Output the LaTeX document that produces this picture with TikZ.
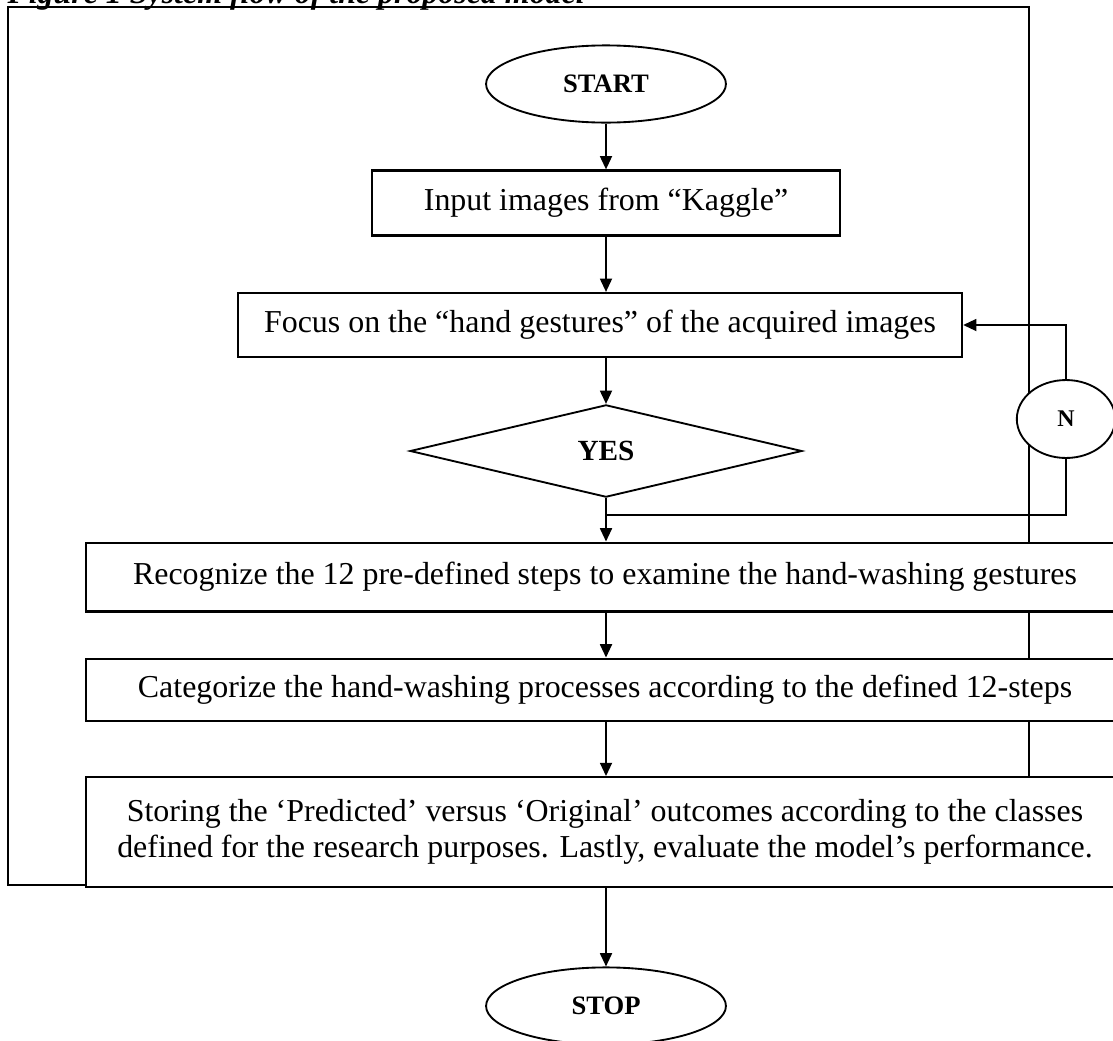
\documentclass[tikz,border=0pt]{standalone}
\usepackage{fontspec}
\setmainfont{Liberation Serif}
\usetikzlibrary{arrows.meta,shapes.geometric,calc}

\begin{document}
\begin{tikzpicture}[
  x=0.01322cm, y=-0.01322cm,
  font=\fontsize{12}{13.6}\selectfont,
  every node/.style={align=center, inner sep=0pt},
  terminal/.style={draw, ellipse, fill=white, line width=0.7pt, minimum width=3.17cm,
                   minimum height=1.02cm, font=\fontsize{10}{12}\selectfont\bfseries},
  process/.style={draw, rectangle, fill=white, line width=0.8pt},
  decision/.style={draw, diamond, fill=white, line width=0.7pt, minimum width=5.18cm,
                   minimum height=1.22cm, font=\fontsize{11}{13}\selectfont\bfseries},
  connector/.style={draw, ellipse, fill=white, line width=0.7pt, minimum width=1.3cm,
                    minimum height=1.03cm, font=\fontsize{9}{11}\selectfont\bfseries},
  arr/.style={-{Triangle[length=5pt,width=4.5pt]}, line width=0.7pt},
  link/.style={line width=0.7pt},
]
\useasboundingbox (0,0) rectangle (1113,1041);

%% --- Caption (cut at the top edge) ---
\node[anchor=base west, font=\fontsize{12}{14}\selectfont\bfseries\itshape] (cap) at (7,3)
  {Figure 1 System flow of the proposed model};

%% --- Outer frame ---
\draw[link] (8,7) rectangle (1029,885);

%% --- Flow ---
\node[terminal] (start) at (606,84) {START};
\node[process, minimum width=6.19cm, minimum height=0.86cm] (input) at (606,203)
  {Input images from “Kaggle”};
\node[process, minimum width=9.57cm, minimum height=0.846cm] (focus) at (600,325)
  {Focus on the “hand gestures” of the acquired images};
\node[decision] (check) at (606,451) {YES};
\node[connector] (no) at (1066,419) {N};
\node[process, minimum width=13.72cm, minimum height=0.91cm] (recog) at (605,577)
  {Recognize the 12 pre-defined steps to examine the hand-washing gestures};
\node[process, minimum width=13.72cm, minimum height=0.83cm] (categ) at (605,690)
  {Categorize the hand-washing processes according to the defined 12-steps};
\node[process, minimum width=13.72cm, minimum height=1.45cm] (store) at (605,832)
  {Storing the ‘Predicted’ versus ‘Original’ outcomes according to the classes\\
   defined for the research purposes. Lastly, evaluate the model’s performance.};
\node[terminal] (stop) at (606,1006) {STOP};

\coordinate (split) at (606,515);

%% --- Arrows ---
\draw[arr] (start) -- (input);
\draw[arr] (input.south) -- (input.south |- focus.north);
\draw[arr] (focus.south -| check.north) -- (check.north);
\draw[arr] (check.south) -- (check.south |- recog.north);
\draw[link] (split) -| (no.south);
\draw[arr] (no.north) |- (focus.east);
\draw[arr] (recog.south -| split) -- (split |- categ.north);
\draw[arr] (categ.south -| split) -- (split |- store.north);
\draw[arr] (store.south -| stop.north) -- (stop.north);

\end{tikzpicture}
\end{document}
